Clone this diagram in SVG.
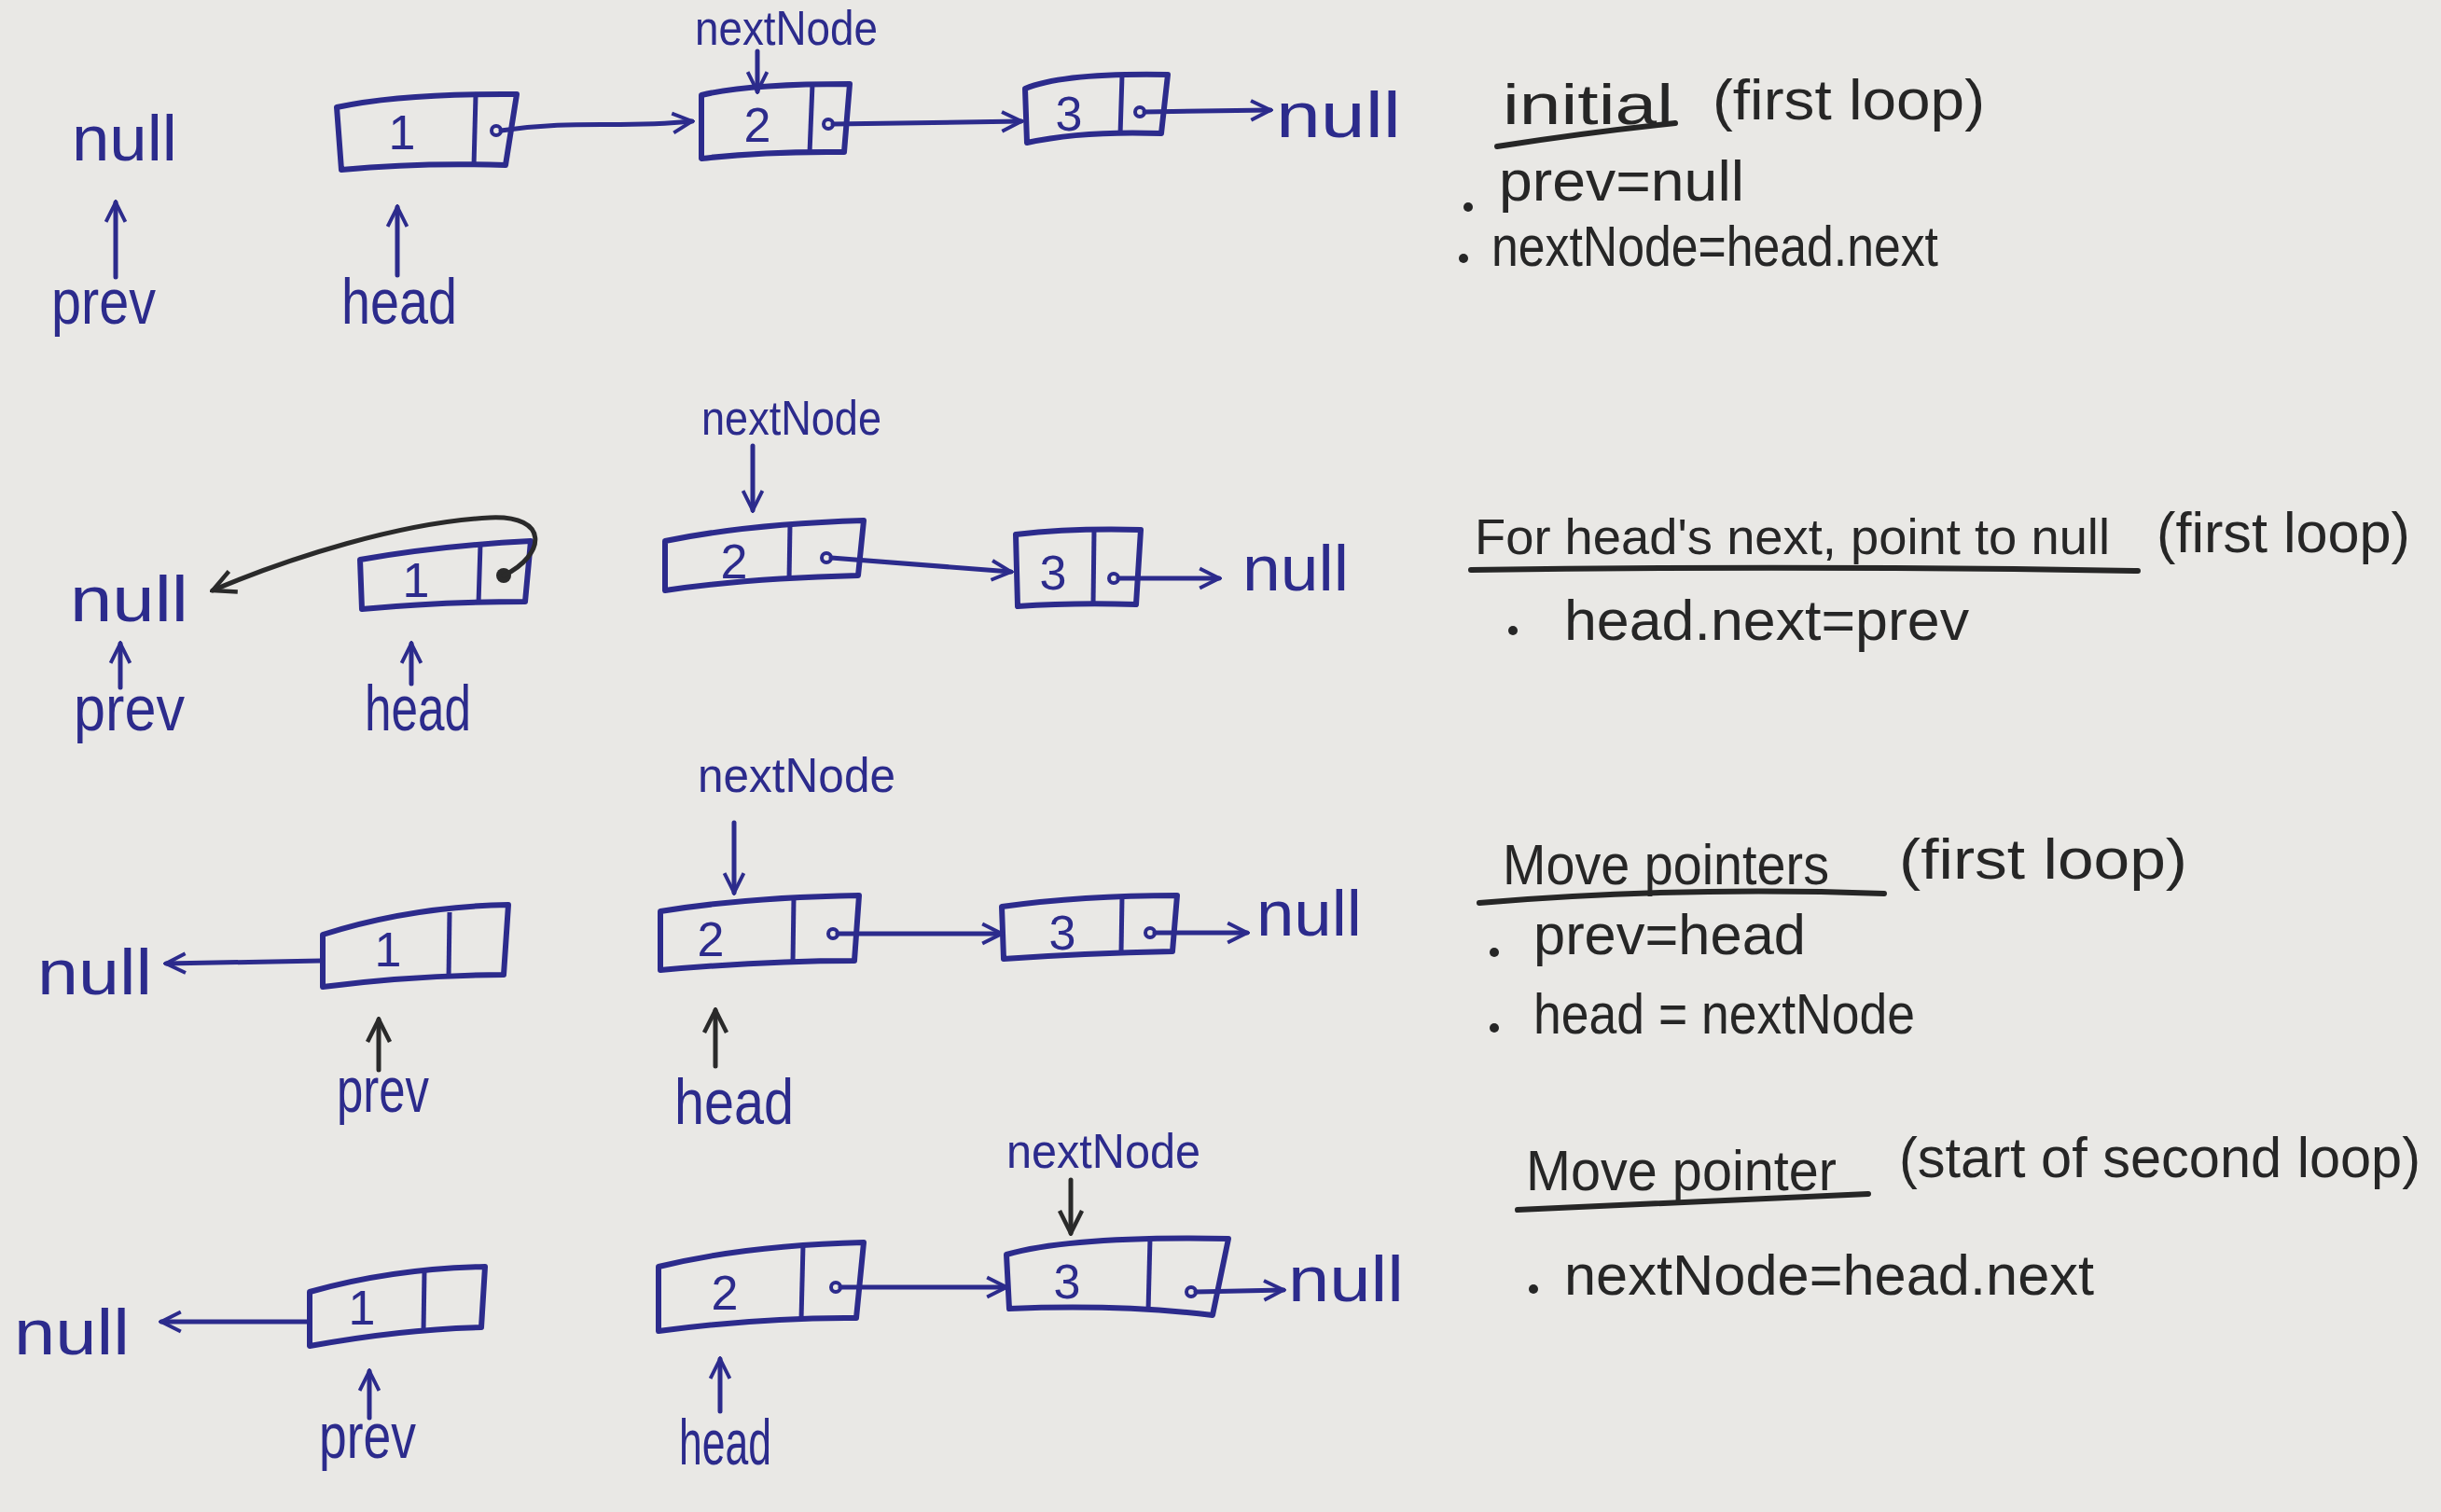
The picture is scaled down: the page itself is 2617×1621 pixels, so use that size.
<svg xmlns="http://www.w3.org/2000/svg" width="2617" height="1621" viewBox="0 0 2617 1621">
<defs>
<style>
.bg{fill:#e9e8e5}
.box{fill:none;stroke:#2c2b8c;stroke-width:6;stroke-linejoin:round}
.div{stroke:#2c2b8c;stroke-width:5}
.dot{fill:none;stroke:#2c2b8c;stroke-width:4}
.num{font-family:"Liberation Sans",Arial,sans-serif;font-size:52px;fill:#2c2b8c;text-anchor:middle}
.lbl{font-family:"Liberation Sans",Arial,sans-serif;font-size:68px;fill:#2c2b8c}
.nn{font-family:"Liberation Sans",Arial,sans-serif;font-size:52px;fill:#2c2b8c}
.note{font-family:"Liberation Sans",Arial,sans-serif;font-size:62px;fill:#262626}
.ul{fill:none;stroke:#262626;stroke-width:6;stroke-linecap:round}
.bul{fill:#262626}
.arr{fill:none;stroke:#2c2b8c;stroke-width:5;stroke-linecap:round}
.arrk{fill:none;stroke:#2a2a2a;stroke-width:5;stroke-linecap:round}
</style>
<marker id="ah" viewBox="0 0 20 20" refX="18" refY="10" markerWidth="26" markerHeight="26" markerUnits="userSpaceOnUse" orient="auto">
<path d="M2,2 L18,10 L2,18" fill="none" stroke="#2c2b8c" stroke-width="3"/>
</marker>
<marker id="ahk" viewBox="0 0 20 20" refX="18" refY="10" markerWidth="30" markerHeight="30" markerUnits="userSpaceOnUse" orient="auto">
<path d="M2,2 L18,10 L2,18" fill="none" stroke="#2a2a2a" stroke-width="3"/>
</marker>
</defs>
<rect class="bg" x="0" y="0" width="2617" height="1621"/>

<!-- ROW 1 -->
<g id="r1-null-left"><text class="lbl" x="77" y="172" textLength="113" lengthAdjust="spacingAndGlyphs">null</text></g>
<g id="r1-prev"><text class="lbl" x="55" y="347" textLength="112" lengthAdjust="spacingAndGlyphs">prev</text></g>
<g id="r1-head"><text class="lbl" x="366" y="347" textLength="124" lengthAdjust="spacingAndGlyphs">head</text></g>
<g id="r1-nextNode"><text class="nn" x="745" y="48" textLength="196" lengthAdjust="spacingAndGlyphs">nextNode</text></g>
<g id="r1-node1"><path class="box" d="M361,115 Q430,100 554,101 L542,177 Q450,174 366,182 Z"/><line class="div" x1="510" y1="102" x2="508" y2="178"/><text class="num" x="431" y="160">1</text><circle class="dot" cx="532" cy="140" r="5"/></g>
<g id="r1-node2"><path class="box" d="M752,102 Q800,90 911,90 L905,163 Q820,162 752,170 Z"/><line class="div" x1="871" y1="90" x2="868" y2="164"/><text class="num" x="812" y="152">2</text><circle class="dot" cx="888" cy="133" r="5"/></g>
<g id="r1-node3"><path class="box" d="M1099,95 Q1140,78 1252,80 L1245,143 Q1160,140 1101,153 Z"/><line class="div" x1="1203" y1="80" x2="1201" y2="145"/><text class="num" x="1146" y="140">3</text><circle class="dot" cx="1222" cy="120" r="5"/></g>
<g id="r1-null-right"><text class="lbl" x="1368" y="147" textLength="134" lengthAdjust="spacingAndGlyphs">null</text></g>

<!-- ROW 2 -->
<g id="r2-null-left"><text class="lbl" x="75" y="666" textLength="127" lengthAdjust="spacingAndGlyphs">null</text></g>
<g id="r2-prev"><text class="lbl" x="79" y="783" textLength="119" lengthAdjust="spacingAndGlyphs">prev</text></g>
<g id="r2-head"><text class="lbl" x="391" y="783" textLength="114" lengthAdjust="spacingAndGlyphs">head</text></g>
<g id="r2-nextNode"><text class="nn" x="752" y="466" textLength="193" lengthAdjust="spacingAndGlyphs">nextNode</text></g>
<g id="r2-node1"><path class="box" d="M386,600 Q470,585 569,580 L563,645 Q470,645 388,653 Z"/><line class="div" x1="515" y1="583" x2="513" y2="648"/><text class="num" x="446" y="640">1</text><circle cx="540" cy="617" r="8" fill="#2a2a2a"/></g>
<g id="r2-node2"><path class="box" d="M713,580 Q800,562 926,558 L920,617 Q800,620 713,633 Z"/><line class="div" x1="847" y1="562" x2="846" y2="622"/><text class="num" x="787" y="620">2</text><circle class="dot" cx="886" cy="598" r="5"/></g>
<g id="r2-node3"><path class="box" d="M1089,573 Q1150,566 1223,568 L1218,648 Q1150,646 1091,650 Z"/><line class="div" x1="1173" y1="568" x2="1172" y2="648"/><text class="num" x="1129" y="632">3</text><circle class="dot" cx="1194" cy="620" r="5"/></g>
<g id="r2-null-right"><text class="lbl" x="1332" y="633" textLength="114" lengthAdjust="spacingAndGlyphs">null</text></g>

<!-- ROW 3 -->
<g id="r3-null-left"><text class="lbl" x="40" y="1066" textLength="123" lengthAdjust="spacingAndGlyphs">null</text></g>
<g id="r3-prev"><text class="lbl" x="361" y="1192" textLength="99" lengthAdjust="spacingAndGlyphs">prev</text></g>
<g id="r3-head"><text class="lbl" x="723" y="1205" textLength="128" lengthAdjust="spacingAndGlyphs">head</text></g>
<g id="r3-nextNode"><text class="nn" x="748" y="849" textLength="212" lengthAdjust="spacingAndGlyphs">nextNode</text></g>
<g id="r3-node1"><path class="box" d="M346,1002 Q440,972 545,970 L540,1045 Q440,1046 346,1058 Z"/><line class="div" x1="482" y1="978" x2="481" y2="1049"/><text class="num" x="416" y="1036">1</text></g>
<g id="r3-node2"><path class="box" d="M708,977 Q800,962 921,960 L916,1030 Q820,1030 708,1040 Z"/><line class="div" x1="851" y1="962" x2="850" y2="1033"/><text class="num" x="762" y="1025">2</text><circle class="dot" cx="893" cy="1001" r="5"/></g>
<g id="r3-node3"><path class="box" d="M1074,972 Q1160,960 1262,960 L1257,1020 Q1160,1022 1076,1028 Z"/><line class="div" x1="1203" y1="960" x2="1202" y2="1022"/><text class="num" x="1139" y="1018">3</text><circle class="dot" cx="1233" cy="1000" r="5"/></g>
<g id="r3-null-right"><text class="lbl" x="1347" y="1003" textLength="113" lengthAdjust="spacingAndGlyphs">null</text></g>

<!-- ROW 4 -->
<g id="r4-null-left"><text class="lbl" x="15" y="1452" textLength="124" lengthAdjust="spacingAndGlyphs">null</text></g>
<g id="r4-prev"><text class="lbl" x="342" y="1563" textLength="104" lengthAdjust="spacingAndGlyphs">prev</text></g>
<g id="r4-head"><text class="lbl" x="728" y="1570" textLength="99" lengthAdjust="spacingAndGlyphs">head</text></g>
<g id="r4-nextNode"><text class="nn" x="1079" y="1252" textLength="208" lengthAdjust="spacingAndGlyphs">nextNode</text></g>
<g id="r4-node1"><path class="box" d="M332,1385 Q420,1360 520,1358 L516,1423 Q430,1425 332,1443 Z"/><line class="div" x1="455" y1="1362" x2="454" y2="1428"/><text class="num" x="388" y="1420">1</text></g>
<g id="r4-node2"><path class="box" d="M706,1358 Q800,1335 926,1332 L918,1413 Q820,1412 706,1427 Z"/><line class="div" x1="861" y1="1334" x2="859" y2="1415"/><text class="num" x="777" y="1404">2</text><circle class="dot" cx="896" cy="1380" r="5"/></g>
<g id="r4-node3"><path class="box" d="M1079,1345 Q1150,1325 1317,1328 L1300,1410 Q1200,1398 1082,1403 Z"/><line class="div" x1="1233" y1="1327" x2="1231" y2="1406"/><text class="num" x="1144" y="1392">3</text><circle class="dot" cx="1277" cy="1385" r="5"/></g>
<g id="r4-null-right"><text class="lbl" x="1381" y="1395" textLength="124" lengthAdjust="spacingAndGlyphs">null</text></g>

<!-- NOTES -->
<g id="note1">
<text class="note" x="1611" y="133" textLength="183" lengthAdjust="spacingAndGlyphs">initial</text>
<text class="note" x="1836" y="128" textLength="292" lengthAdjust="spacingAndGlyphs">(first loop)</text>
<path class="ul" d="M1605,157 Q1700,142 1796,132"/>
<circle class="bul" cx="1574" cy="222" r="5"/>
<text class="note" x="1607" y="215" textLength="263" lengthAdjust="spacingAndGlyphs">prev=null</text>
<circle class="bul" cx="1569" cy="277" r="5"/>
<text class="note" x="1599" y="285" textLength="479" lengthAdjust="spacingAndGlyphs">nextNode=head.next</text>
</g>
<g id="note2">
<text class="note" style="font-size:54px" x="1581" y="594" textLength="681" lengthAdjust="spacingAndGlyphs">For head's next, point to null</text>
<text class="note" x="2312" y="592" textLength="272" lengthAdjust="spacingAndGlyphs">(first loop)</text>
<path class="ul" d="M1577,611 Q1930,606 2292,612"/>
<circle class="bul" cx="1622" cy="676" r="5"/>
<text class="note" x="1677" y="686" textLength="434" lengthAdjust="spacingAndGlyphs">head.next=prev</text>
</g>
<g id="note3">
<text class="note" x="1611" y="948" textLength="350" lengthAdjust="spacingAndGlyphs">Move pointers</text>
<text class="note" x="2036" y="942" textLength="309" lengthAdjust="spacingAndGlyphs">(first loop)</text>
<path class="ul" d="M1586,968 Q1800,950 2020,958"/>
<circle class="bul" cx="1602" cy="1021" r="5"/>
<text class="note" x="1644" y="1023" textLength="292" lengthAdjust="spacingAndGlyphs">prev=head</text>
<circle class="bul" cx="1602" cy="1102" r="5"/>
<text class="note" x="1644" y="1108" textLength="409" lengthAdjust="spacingAndGlyphs">head = nextNode</text>
</g>
<g id="note4">
<text class="note" x="1636" y="1276" textLength="333" lengthAdjust="spacingAndGlyphs">Move pointer</text>
<text class="note" x="2036" y="1262" textLength="559" lengthAdjust="spacingAndGlyphs">(start of second loop)</text>
<path class="ul" d="M1627,1297 Q1820,1288 2003,1280"/>
<circle class="bul" cx="1644" cy="1382" r="5"/>
<text class="note" x="1677" y="1388" textLength="568" lengthAdjust="spacingAndGlyphs">nextNode=head.next</text>
</g>

<!-- CONNECTORS -->
<g id="connectors">
<!-- row 1 -->
<path class="arr" d="M537,140 C620,128 660,138 742,130" marker-end="url(#ah)"/>
<path class="arr" d="M893,133 L1095,130" marker-end="url(#ah)"/>
<path class="arr" d="M1227,120 L1362,118" marker-end="url(#ah)"/>
<path class="arr" d="M124,297 L124,217" marker-end="url(#ah)"/>
<path class="arr" d="M426,295 L426,222" marker-end="url(#ah)"/>
<path class="arr" d="M812,55 L812,98" marker-end="url(#ah)"/>
<!-- row 2 -->
<path class="arrk" d="M540,617 C585,595 590,552 525,555 C430,560 310,598 228,633" marker-end="url(#ahk)"/>
<path class="arr" d="M891,598 L1084,613" marker-end="url(#ah)"/>
<path class="arr" d="M1199,620 L1307,620" marker-end="url(#ah)"/>
<path class="arr" d="M129,737 L129,690" marker-end="url(#ah)"/>
<path class="arr" d="M441,733 L441,690" marker-end="url(#ah)"/>
<path class="arr" d="M807,478 L807,547" marker-end="url(#ah)"/>
<!-- row 3 -->
<path class="arr" d="M344,1030 L178,1033" marker-end="url(#ah)"/>
<path class="arr" d="M898,1001 L1074,1001" marker-end="url(#ah)"/>
<path class="arr" d="M1238,1000 L1337,1000" marker-end="url(#ah)"/>
<path class="arrk" d="M406,1147 L406,1093" marker-end="url(#ahk)"/>
<path class="arrk" d="M767,1143 L767,1083" marker-end="url(#ahk)"/>
<path class="arr" d="M787,882 L787,957" marker-end="url(#ah)"/>
<!-- row 4 -->
<path class="arr" d="M330,1417 L173,1417" marker-end="url(#ah)"/>
<path class="arr" d="M901,1380 L1079,1380" marker-end="url(#ah)"/>
<path class="arr" d="M1282,1385 L1376,1383" marker-end="url(#ah)"/>
<path class="arr" d="M396,1520 L396,1470" marker-end="url(#ah)"/>
<path class="arr" d="M772,1513 L772,1457" marker-end="url(#ah)"/>
<path class="arrk" d="M1148,1265 L1148,1322" marker-end="url(#ahk)"/>
</g>
</svg>
